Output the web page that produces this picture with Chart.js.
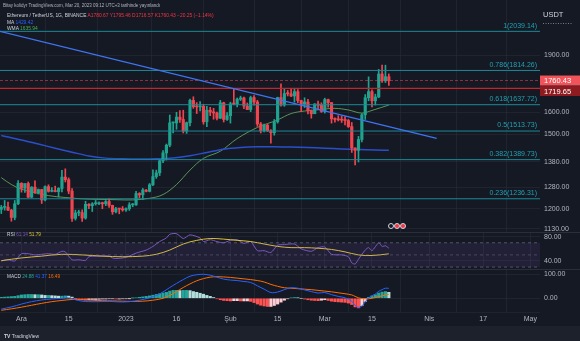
<!DOCTYPE html>
<html><head><meta charset="utf-8">
<script src="https://cdn.jsdelivr.net/npm/chart.js@4.4.1/dist/chart.umd.min.js"></script>
<style>
html,body{margin:0;padding:0;background:#151924;width:580px;height:341px;overflow:hidden;font-family:"Liberation Sans",Arial,sans-serif;}
#wrap{position:relative;width:580px;height:341px;background:#151924;}
canvas{position:absolute;left:0;}
.t{position:absolute;white-space:nowrap;color:#d1d4dc;font-size:10px;line-height:10px;transform-origin:0 0;}
.sep{position:absolute;left:0;width:580px;height:1px;background:#2a2e39;}
.ev{position:absolute;width:4px;height:4px;border-radius:50%;border:1px solid #d1d4dc;}
</style></head><body>
<div id="wrap">
<canvas id="main" width="580" height="232" style="top:0px"></canvas>
<canvas id="rsi" width="580" height="36" style="top:233px"></canvas>
<canvas id="macd" width="580" height="56" style="top:270px"></canvas>
<div class="sep" style="top:232px"></div>
<div class="sep" style="top:269px"></div>
<div class="sep" style="top:312px;width:540px;background:#1f232e"></div>
<div style="position:absolute;left:0;top:326px;width:580px;height:15px;background:#1d212c;"></div>
<div class="t" style="left:3px;top:3px;transform:scale(0.45);color:#b2b5be">Bitay kolidyr TradingView.com, Mar 20, 2023 09:12 UTC+3 tarihinde yayınlandı</div>
<div class="t" style="left:7px;top:12.8px;transform:scale(0.49)">Ethereum / TetherUS, 1G, BINANCE <span style="color:#f23645">A1780.67 Y1795.46 D1716.57 K1760.43 −20.25 (−1.14%)</span></div>
<div class="t" style="left:7px;top:19.5px;transform:scale(0.49)">MA <span style="color:#2962ff">1429.42</span></div>
<div class="t" style="left:7px;top:25.5px;transform:scale(0.49)">WMA <span style="color:#4caf50">1635.94</span></div>
<div class="t" style="left:7px;top:232.3px;transform:scale(0.47)">RSI <span style="color:#7e57c2">61.14</span> <span style="color:#e0c537">51.79</span></div>
<div class="t" style="left:7px;top:273.5px;transform:scale(0.47)">MACD <span style="color:#26a69a">24.88</span> <span style="color:#2962ff">41.37</span> <span style="color:#ff6d00">16.49</span></div>
<div class="t" style="left:4px;top:334px;transform:scale(0.5);color:#d1d4dc"><b>TV</b> TradingView</div>
<div class="ev" style="left:388px;top:222.5px;background:transparent"></div>
<div class="ev" style="left:394px;top:222.5px;background:#f23645"></div>
<div class="ev" style="left:400px;top:222.5px;background:#f23645"></div>
</div>
<script>
// ---------- DATA ----------
// day index: 0 = 1 Dec 2022; first candle = 25 Nov 2022
const firstDay = -6;
const opens  = [1198,1205,1206,1195,1169,1218,1295,1276,1294,1242,1280,1259,1271,1232,1282,1264,1265,1263,1275,1319,1309,1265,1166,1185,1186,1167,1216,1211,1218,1218,1220,1218,1226,1212,1189,1200,1199,1196,1200,1214,1214,1256,1251,1269,1264,1289,1321,1336,1385,1418,1451,1551,1551,1578,1567,1514,1552,1659,1628,1627,1630,1556,1611,1602,1598,1573,1647,1567,1585,1642,1641,1665,1671,1631,1614,1673,1651,1546,1515,1540,1515,1506,1556,1673,1636,1693,1692,1681,1703,1658,1642,1651,1609,1594,1641,1635,1605,1663,1648,1570,1567,1565,1565,1562,1534,1439,1429,1476,1589,1672,1703,1657,1676,1795,1759,1780.67];
const highs  = [1212,1230,1224,1198,1230,1305,1297,1293,1300,1282,1304,1273,1272,1285,1289,1278,1284,1278,1346,1352,1316,1275,1195,1195,1196,1227,1219,1222,1230,1225,1224,1230,1236,1213,1205,1201,1208,1203,1222,1219,1264,1259,1275,1271,1294,1348,1347,1389,1428,1456,1588,1555,1601,1609,1611,1555,1665,1677,1648,1653,1640,1630,1625,1620,1602,1659,1650,1600,1650,1715,1671,1680,1676,1646,1680,1683,1659,1553,1545,1545,1520,1567,1675,1743,1715,1709,1716,1720,1713,1660,1672,1664,1612,1643,1656,1647,1670,1665,1648,1575,1585,1583,1580,1567,1553,1440,1490,1595,1688,1780,1712,1690,1820,1844,1843,1795.46];
const lows   = [1183,1195,1193,1156,1161,1215,1261,1260,1241,1240,1256,1254,1219,1228,1261,1262,1262,1243,1262,1300,1255,1155,1160,1175,1155,1163,1200,1190,1213,1215,1200,1211,1205,1180,1185,1182,1191,1190,1194,1207,1212,1240,1234,1262,1262,1286,1314,1325,1377,1388,1444,1505,1522,1553,1505,1503,1537,1620,1595,1608,1545,1534,1585,1568,1565,1571,1555,1562,1550,1637,1627,1658,1618,1614,1604,1636,1535,1505,1510,1511,1460,1495,1550,1630,1630,1681,1678,1650,1648,1604,1624,1593,1573,1594,1615,1600,1597,1626,1550,1554,1560,1553,1542,1530,1420,1368,1380,1465,1567,1657,1627,1636,1672,1751,1750,1735];
const closes = [1205,1206,1195,1169,1218,1295,1276,1294,1242,1280,1259,1271,1232,1282,1264,1265,1263,1275,1319,1309,1265,1166,1185,1186,1167,1216,1211,1218,1218,1220,1218,1226,1212,1189,1200,1199,1196,1200,1214,1214,1256,1251,1269,1264,1289,1321,1336,1385,1418,1451,1551,1551,1578,1567,1514,1552,1659,1628,1627,1630,1556,1611,1602,1598,1573,1647,1567,1585,1642,1641,1665,1671,1631,1614,1673,1651,1546,1515,1540,1515,1506,1556,1673,1636,1693,1692,1681,1703,1658,1642,1651,1609,1594,1641,1635,1605,1663,1648,1570,1567,1565,1564,1562,1534,1439,1429,1476,1589,1672,1703,1657,1676,1795,1759,1781,1760.43];

// moving averages: [day, value]
const maLine  = [[-6,1494],[0,1474],[5,1456],[10,1438],[15,1421],[20,1405],[25,1396],[30,1393],[35,1392],[40,1393],[45,1397],[50,1406],[55,1420],[60,1434],[65,1441],[70,1444],[75,1444],[80,1443],[85,1441],[90,1438],[95,1435],[100,1432],[105,1430],[109,1429.42]];
const wmaLine = [[-6,1317],[-3,1290],[0,1272],[3,1262],[8,1248],[13,1241],[18,1236],[23,1234],[28,1233],[33,1232],[38,1238],[42,1252],[46,1290],[50,1347],[54,1395],[59,1425],[64,1480],[70,1530],[76,1565],[80,1595],[84,1607],[88,1613],[93,1620],[97,1612],[101,1597],[104,1610],[109,1635.94]];
const trendLine = [[-6.4,2039],[123.2,1481]];

const fibRatios = ["1","0.786","0.618","0.5","0.382","0.236"];
const fibLevels = [2039.14,1814.26,1637.72,1513.73,1389.73,1236.31];
const levelLine = 1719.65;
const lastPrice = 1760.43;

const priceTicks = [1130,1200,1280,1380,1500,1600,1900];
const rsiTicks = [40,80];
const macdTicks = [0,100];
const tickDays   = [0,14,31,46,62,76,90,104,121,137,151];
const tickLabels = ["Ara","15","2023","16","Şub","15","Mar","15","Nis","17","May"];

const rsiLine = [[-6,40],[-4,42],[-2,40],[0,52],[2,52],[4,50],[6,51],[8,52],[10,51],[12,56],[13,55],[15,42],[17,42],[19,41],[20,47],[23,48],[26,48],[27,45],[28,44],[31,46],[34,53],[37,58],[39,64],[41,72],[43,78],[44,84],[46,85],[48,77],[50,83],[53,78],[54,72],[56,75],[58,72],[60,70],[62,74],[64,75],[66,69],[68,72],[70,57],[72,57],[74,54],[76,66],[78,67],[81,68],[83,60],[86,56],[88,62],[90,63],[92,51],[95,50],[97,47],[98,37],[99,35],[100,43],[102,58],[103,62],[104,57],[106,70],[107,64],[108,65],[109,61.14]];
const rsiMaLine = [[-6,40.5],[0,45],[6,48],[12,51],[18,50],[24,48],[30,47],[36,48],[40,51],[44,58],[48,68],[52,74],[56,77],[60,76],[64,74],[68,72],[72,68],[76,64],[80,62],[84,62],[88,61],[92,59],[96,55],[100,50],[104,49],[109,51.79]];
const rsiBands = [70,50,30];

const macdLine = [[-6,-45],[-3,-36],[0,-24],[3,-14],[6,-7],[9,-3],[12,0],[14,2],[16,-6],[18,-12],[20,-14],[23,-14],[26,-13],[29,-15],[32,-14],[35,-8],[38,2],[41,18],[44,45],[46,62],[48,78],[50,92],[52,98],[54,100],[56,96],[58,88],[60,80],[62,76],[64,74],[66,70],[68,66],[70,52],[72,38],[74,24],[76,26],[78,36],[80,44],[82,42],[84,35],[86,28],[88,22],[90,24],[92,15],[94,8],[96,2],[98,-12],[99,-30],[100,-38],[101,-32],[102,-15],[103,2],[104,10],[105,18],[106,29],[107,36],[108,42],[109,41.37]];
const signalLine = [[-6,-50],[-3,-44],[0,-37],[3,-29],[6,-21],[9,-14],[12,-9],[15,-5],[18,-6],[21,-8],[24,-10],[27,-11],[30,-12],[33,-13],[36,-12],[39,-8],[42,0],[44,12],[46,28],[48,45],[50,60],[52,73],[54,82],[56,88],[58,90],[60,89],[62,87],[64,84],[66,81],[68,78],[70,74],[72,68],[74,58],[76,50],[78,44],[80,42],[82,40],[84,38],[86,36],[88,33],[90,30],[92,27],[94,23],[96,19],[98,14],[99,8],[100,2],[101,-1],[102,-2],[103,-2],[104,0],[105,3],[106,7],[107,10],[108,14],[109,16.49]];
const macdHist = [4,5,6,7,8,11,14,15,16,16, 15,15,14,12,12,11,10,9,9,10, 9,5,-1,-4,-6,-7,-6,-5,-5,-4, -3,-3,-2,-2,-3,-3,-2,-2,-1,1, 2,4,6,8,10,13,16,19,22,25, 30,33,33,32,33,33,32,28,25,21, 17,12,8,3,-2,-6,-9,-10,-11,-10, -10,-11,-11,-11,-13,-18,-24,-29,-32,-34, -34,-30,-24,-16,-8,-2,2,3,2,0, -3,-6,-8,-9,-10,-8,-6,-9,-12,-14, -15,-16,-17,-20,-26,-36,-40,-31,-13,4, 10,15,22,26,28,24.88];

// ---------- STYLE ----------
const xMin = -6.38, xMax = 153.86;
const UP = '#1fa38f', DOWN = '#f0454f';
const gridColor = 'rgba(42,46,57,0.55)';
const axisText = '#b2b5be';
const fontFam = '"Liberation Sans", Arial, sans-serif';
const fibColor = '#1b8a97';
const fibText = '#22a0b0';

const pts = arr => arr.map(p => ({x:p[0], y:p[1]}));
const hline = v => [{x:xMin, y:v},{x:xMax, y:v}];
const dayOf = i => firstDay + i;

function xScale(showLabels){
  return {
    type:'linear', min:xMin, max:xMax, offset:false,
    grid:{color:gridColor, drawTicks:false, lineWidth:1},
    border:{display:false},
    afterBuildTicks(s){ s.ticks = tickDays.map(v=>({value:v})); },
    ticks:{display:showLabels, autoSkip:false, maxRotation:0, minRotation:0, padding:3,
      color:axisText, font:{size:7, family:fontFam},
      callback:(v,i)=>tickLabels[i]},
    afterFit(s){ s.height = showLabels?14:0; s.paddingLeft=0; s.paddingRight=0; s.paddingTop=0; s.paddingBottom=0; }
  };
}
function yScale(type,min,max,tickArr){
  return {
    type, position:'right', min, max, beginAtZero:false,
    grid:{color:gridColor, drawTicks:false},
    border:{display:false},
    afterBuildTicks(s){ s.ticks = tickArr.map(v=>({value:v})); },
    ticks:{color:axisText, font:{size:7, family:fontFam}, padding:4, callback:v=>Number(v).toFixed(2)},
    afterFit(s){ s.width=40; s.paddingTop=0; s.paddingBottom=0; }
  };
}
const baseOpts = {responsive:false, animation:false, events:[], layout:{padding:0},
  plugins:{legend:{display:false}, tooltip:{enabled:false}}};
const lineDs = (data,color,width,extra) => Object.assign({type:'line', data, borderColor:color, borderWidth:width, pointRadius:0, fill:false, tension:0.35}, extra||{});

// ---------- MAIN ----------
const candleColor = i => closes[i] >= opens[i] ? UP : DOWN;
const mainOverlay = {
  id:'mainOverlay',
  afterDraw(chart){
    const ctx = chart.ctx, y = chart.scales.y;
    ctx.save();
    ctx.font = '7px ' + fontFam;
    ctx.textAlign = 'right'; ctx.textBaseline = 'bottom';
    ctx.fillStyle = fibText;
    fibLevels.forEach((v,i)=>{ ctx.fillText(fibRatios[i]+'('+v.toFixed(2)+')', 537, y.getPixelForValue(v)-2); });
    // price labels
    ctx.textAlign='left'; ctx.textBaseline='middle'; ctx.font = '7.5px ' + fontFam;
    const y1 = y.getPixelForValue(lastPrice);
    const y2 = Math.max(y.getPixelForValue(levelLine), y1 + 10.5);
    ctx.fillStyle = '#f0545a'; ctx.fillRect(540, y1-5, 40, 10);
    ctx.fillStyle = '#ffffff'; ctx.fillText(lastPrice.toFixed(2), 544, y1+0.5);
    ctx.fillStyle = '#8e1b20'; ctx.fillRect(540, y2-5, 40, 10);
    ctx.fillStyle = '#ffffff'; ctx.fillText(levelLine.toFixed(2), 544, y2+0.5);
    // currency
    ctx.fillStyle = '#d1d4dc'; ctx.font = '7.5px ' + fontFam;
    ctx.fillText('USDT', 543, 15);
    ctx.strokeStyle = '#787b86'; ctx.setLineDash([1,1.5]); ctx.lineWidth = 1;
    ctx.beginPath(); ctx.moveTo(543, 23.5); ctx.lineTo(572, 23.5); ctx.stroke();
    ctx.restore();
  }
};
const mainDatasets = [
  ...fibLevels.map(v => lineDs(hline(v), fibColor, 1, {tension:0, order:1})),
  lineDs(hline(levelLine), '#c2262b', 1.3, {tension:0, order:1}),
  lineDs(hline(lastPrice), 'rgba(240,69,79,0.55)', 1, {tension:0, order:1, borderDash:[3,2]}),
  lineDs(pts(trendLine), '#3f74f2', 1.4, {tension:0, order:0}),
  lineDs(pts(maLine), '#2a4fc9', 1.5, {order:9}),
  lineDs(pts(wmaLine), 'rgba(102,170,95,0.85)', 1, {order:9}),
  {type:'bar', data: lows.map((l,i)=>({x:dayOf(i), y:[l, highs[i]]})), barThickness:1, grouped:false,
   backgroundColor: c=>candleColor(c.dataIndex), order:5},
  {type:'bar', data: opens.map((o,i)=>({x:dayOf(i), y:[o, closes[i]]})), barThickness:2.5, grouped:false, minBarLength:1,
   backgroundColor: c=>candleColor(c.dataIndex), order:4}
];
new Chart(document.getElementById('main'), {
  type:'bar', data:{datasets:mainDatasets},
  options:Object.assign({}, baseOpts, {scales:{x:xScale(false), y:yScale('logarithmic',1119.4,2239.5,priceTicks)}}),
  plugins:[mainOverlay]
});

// ---------- RSI ----------
new Chart(document.getElementById('rsi'), {
  type:'line',
  data:{datasets:[
    lineDs(hline(rsiBands[0]), 'rgba(120,123,134,0.6)', 1, {tension:0, borderDash:[3,3], fill:'+1', backgroundColor:'rgba(126,87,194,0.12)'}),
    lineDs(hline(rsiBands[2]), 'rgba(120,123,134,0.6)', 1, {tension:0, borderDash:[3,3]}),
    lineDs(hline(rsiBands[1]), 'rgba(120,123,134,0.45)', 1, {tension:0, borderDash:[3,3]}),
    lineDs(pts(rsiMaLine), '#e0c537', 1, {}),
    lineDs(pts(rsiLine), '#7e57c2', 1, {tension:0.25})
  ]},
  options:Object.assign({}, baseOpts, {scales:{x:xScale(false), y:yScale('linear',26.8,86.1,rsiTicks)}})
});

// ---------- MACD ----------
const histColor = c => {
  const i = c.dataIndex, v = macdHist[i], p = i>0 ? macdHist[i-1] : v;
  if (v >= 0) return v >= p ? '#26a69a' : '#b2dfdb';
  return v < p ? '#ff5252' : '#ffcdd2';
};
new Chart(document.getElementById('macd'), {
  type:'bar',
  data:{datasets:[
    lineDs(pts(signalLine), '#ff6d00', 1, {order:1}),
    lineDs(pts(macdLine), '#2962ff', 1, {order:0}),
    {type:'bar', data: macdHist.map((v,i)=>({x:dayOf(i), y:v})), barThickness:2.5, grouped:false, backgroundColor:histColor, order:3}
  ]},
  options:Object.assign({}, baseOpts, {scales:{x:xScale(true), y:yScale('linear',-57.1,117.9,macdTicks)}})
});
</script>
</body></html>
